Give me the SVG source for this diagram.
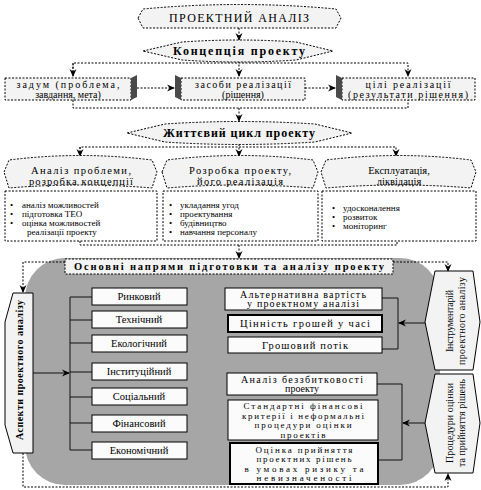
<svg xmlns="http://www.w3.org/2000/svg" width="481" height="490" viewBox="0 0 481 490" font-family="'Liberation Serif', 'DejaVu Serif', serif">
<defs>
<style>
text{font-family:"Liberation Serif","DejaVu Serif",serif;fill:#000}
.t12{font-size:12px}
.t11{font-size:10.5px}
.t10{font-size:10px}
.t95{font-size:9.5px}
.t9{font-size:9px}
.b{font-weight:bold}
.m{text-anchor:middle}
.dot{fill:none;stroke:#000;stroke-width:1;stroke-dasharray:2,1.5}
.shape{fill:#f3f3f3;stroke:#000;stroke-width:1;stroke-dasharray:2,1.5}
.box{fill:#fbfbfb;stroke:#000;stroke-width:1}
.thick{stroke-width:2}
.ln{fill:none;stroke:#111;stroke-width:1}
.side{fill:#4a4a4a}
</style>
<marker id="ar" markerWidth="8" markerHeight="8" refX="7" refY="4" orient="auto" markerUnits="userSpaceOnUse">
<path d="M0,0.5 L8,4 L0,7.5 L2.5,4 Z" fill="#000"/>
</marker>
</defs>

<g id="connectors">
<path class="dot" d="M239,28 V40" marker-end="url(#ar)"/>
<path class="dot" d="M73,76 V63 H408 V76" marker-end="url(#ar)"/>
<path class="dot" d="M73,63 V76" marker-end="url(#ar)"/>
<path class="dot" d="M239,61 V76" marker-end="url(#ar)"/>
<path class="dot" d="M137,88 H174" marker-end="url(#ar)"/>
<path class="dot" d="M305,88 H335" marker-end="url(#ar)"/>
<path class="dot" d="M73,100 V108 H408 V100"/>
<path class="dot" d="M239,108 V121" marker-end="url(#ar)"/>
<path class="dot" d="M80,156 V147 H396 V156" marker-end="url(#ar)"/>
<path class="dot" d="M80,147 V156" marker-end="url(#ar)"/>
<path class="dot" d="M239,144 V156" marker-end="url(#ar)"/>
<path class="dot" d="M80,241 V245 H397 V241"/>
<path class="dot" d="M239,245 V258" marker-end="url(#ar)"/>
</g>

<g id="gray-area">
<rect x="25" y="258" width="415" height="227" rx="40" ry="40" fill="#a6a6a6"/>
</g>

<g id="connectors-inner">
<path class="dot" d="M65,262 H23 V292" marker-end="url(#ar)"/>
<path class="dot" d="M393,262 H448 V271" marker-end="url(#ar)"/>
<path class="dot" d="M23,453 V487 H448 V474" marker-end="url(#ar)"/>
<path class="ln" d="M33,373 H69" marker-end="url(#ar)"/>
<path class="ln" d="M70,297 V450 M70,297 H92 M70,320 H92 M70,343 H92 M70,372 H92 M70,397 H92 M70,423 H92 M70,450 H92"/>
<path class="ln" d="M382,298 H398 V349 H382"/>
<path class="ln" d="M425,323 H399" marker-end="url(#ar)"/>
<path class="ln" d="M377,384 H402 V460 H378"/>
<path class="ln" d="M425,423 H403" marker-end="url(#ar)"/>
</g>

<g id="node-proektnyi-analiz">
<path class="shape" d="M138,18 L143,9 Q239,0 336,9 L341,18 L336,28 L143,28 Z"/>
<text class="t12 m" x="239" y="22" textLength="140">ПРОЕКТНИЙ АНАЛІЗ</text>
</g>

<g id="node-kontseptsiia">
<path class="shape" d="M143,51 L182,42 Q239,38 296,42 L333,51 L296,60 Q239,64 182,60 Z"/>
<text class="t12 b m" x="239" y="55" textLength="132">Концепція проекту</text>
</g>

<g id="node-zadum">
<rect class="shape" x="5" y="78" width="126" height="22"/>
<polygon class="side" points="131,78 137,75 137,97 131,100"/>
<text class="t10 m" x="68" y="88" textLength="103">задум (проблема,</text>
<text class="t10 m" x="68" y="97.5">завдання, мета)</text>
</g>

<g id="node-zasoby">
<rect class="shape" x="181" y="78" width="124" height="22"/>
<polygon class="side" points="175,75 181,78 181,100 175,97"/>
<text class="t10 m" x="243" y="88" textLength="96">засоби реалізації</text>
<text class="t10 m" x="243" y="97.5">(рішення)</text>
</g>

<g id="node-tsili">
<rect class="shape" x="342" y="78" width="133" height="22"/>
<polygon class="side" points="336,75 342,78 342,100 336,97"/>
<text class="t10 m" x="408" y="88" textLength="85">цілі реалізації</text>
<text class="t10 m" x="408" y="97.5" textLength="120">(результати рішення)</text>
</g>

<g id="node-zhyttievyi-tsykl">
<path class="shape" d="M127,133 L165,124 Q239,119 315,124 L352,133 L315,142 Q239,147 165,142 Z"/>
<text class="t12 b m" x="239" y="137" textLength="152">Життєвий цикл проекту</text>
</g>

<g id="node-analiz-problemy">
<path class="shape" d="M4,172 L9,160 Q80,151 152,160 L157,172 L152,188 Q80,182 9,188 Z"/>
<text class="t11 m" x="81" y="174" textLength="100">Аналіз проблеми,</text>
<text class="t11 m" x="81" y="184.5" textLength="104">розробка концепції</text>
<rect class="dot" x="5" y="191" width="152" height="50"/>
<text class="t9" x="10" y="208">•</text><text class="t9" x="22" y="208">аналіз можливостей</text>
<text class="t9" x="10" y="217">•</text><text class="t9" x="22" y="217">підготовка ТЕО</text>
<text class="t9" x="10" y="226">•</text><text class="t9" x="22" y="226">оцінка можливостей</text>
<text class="t9" x="27" y="235">реалізації проекту</text>
</g>

<g id="node-rozrobka-proektu">
<path class="shape" d="M162,172 L167,160 Q240,151 313,160 L318,172 L313,188 Q240,182 167,188 Z"/>
<text class="t11 m" x="240" y="174" textLength="102">Розробка проекту,</text>
<text class="t11 m" x="240" y="184.5" textLength="86">його реалізація</text>
<rect class="dot" x="163" y="191" width="155" height="50"/>
<text class="t9" x="169" y="208">•</text><text class="t9" x="180" y="208">укладання угод</text>
<text class="t9" x="169" y="217">•</text><text class="t9" x="180" y="217">проектування</text>
<text class="t9" x="169" y="226">•</text><text class="t9" x="180" y="226">будівництво</text>
<text class="t9" x="169" y="235">•</text><text class="t9" x="180" y="235">навчання персоналу</text>
</g>

<g id="node-ekspluatatsiia">
<path class="shape" d="M321,172 L326,160 Q399,151 471,160 L476,172 L471,188 Q399,182 326,188 Z"/>
<text class="t11 m" x="399" y="174">Експлуатація,</text>
<text class="t11 m" x="399" y="184.5">ліквідація</text>
<rect class="dot" x="322" y="191" width="154" height="50"/>
<text class="t9" x="332" y="211">•</text><text class="t9" x="343" y="211">удосконалення</text>
<text class="t9" x="332" y="220">•</text><text class="t9" x="343" y="220">розвиток</text>
<text class="t9" x="332" y="229">•</text><text class="t9" x="343" y="229">моніторинг</text>
</g>

<g id="node-osnovni-napriamy">
<rect class="shape" x="65" y="259" width="328" height="15"/>
<text class="t11 b m" x="229" y="270" textLength="310">Основні напрями підготовки та аналізу проекту</text>
</g>

<g id="node-aspekty">
<polygon fill="#f3f3f3" stroke="#000" points="13,293 33,293 33,453 13,453 5,425 5,322"/>
<text class="t10 b m" transform="translate(23,370) rotate(-90)" textLength="140">Аспекти проектного аналізу</text>
</g>

<g id="node-rynkovyi"><rect class="box" x="92" y="288" width="95" height="17"/><text class="t11 m" x="139" y="300">Ринковий</text></g>
<g id="node-tekhnichnyi"><rect class="box" x="92" y="311" width="95" height="17"/><text class="t11 m" x="139" y="323">Технічний</text></g>
<g id="node-ekolohichnyi"><rect class="box" x="92" y="335" width="95" height="17"/><text class="t11 m" x="139" y="347">Екологічний</text></g>
<g id="node-instytutsiinyi"><rect class="box" x="92" y="363" width="95" height="17"/><text class="t11 m" x="139" y="375">Інституційний</text></g>
<g id="node-sotsialnyi"><rect class="box" x="92" y="388" width="95" height="17"/><text class="t11 m" x="139" y="400">Соціальний</text></g>
<g id="node-finansovyi"><rect class="box" x="92" y="415" width="95" height="17"/><text class="t11 m" x="139" y="427">Фінансовий</text></g>
<g id="node-ekonomichnyi"><rect class="box" x="92" y="442" width="95" height="17"/><text class="t11 m" x="139" y="454">Економічний</text></g>

<g id="node-alternatyvna">
<rect class="box" x="225" y="288" width="157" height="22"/>
<text class="t10 m" x="303" y="297.5" textLength="126">Альтернативна вартість</text>
<text class="t10 m" x="303" y="307" textLength="112">у проектному аналізі</text>
</g>
<g id="node-tsinnist">
<rect class="box thick" x="228" y="315" width="154" height="17"/>
<text class="t11 m" x="305" y="327" textLength="130">Цінність грошей у часі</text>
</g>
<g id="node-hroshovyi">
<rect class="box" x="228" y="337" width="154" height="16"/>
<text class="t11 m" x="305" y="349" textLength="86">Грошовий потік</text>
</g>

<g id="node-instrumentarii">
<polygon fill="#f3f3f3" stroke="#000" points="435,271 473,271 480,322 473,370 435,370 425,322"/>
<text class="t10 m" transform="translate(453,321) rotate(-90)" textLength="62">Інструментарій</text>
<text class="t10 m" transform="translate(465,321) rotate(-90)" textLength="88">проектного аналізу</text>
</g>

<g id="node-analiz-bezzbytkovosti">
<rect class="box" x="227" y="373" width="150" height="22"/>
<text class="t10 m" x="302" y="382.5" textLength="122">Аналіз беззбитковості</text>
<text class="t10 m" x="302" y="392">проекту</text>
</g>
<g id="node-standartni">
<rect class="box" x="228" y="400" width="150" height="40"/>
<text class="t9 m" x="303" y="409" textLength="119">Стандартні фінансові</text>
<text class="t9 m" x="303" y="418.5" textLength="122">критерії і неформальні</text>
<text class="t9 m" x="303" y="428" textLength="97">процедури оцінки</text>
<text class="t9 m" x="303" y="437.5" textLength="45">проектів</text>
</g>
<g id="node-otsinka">
<rect class="box thick" x="230" y="443" width="148" height="41"/>
<text class="t9 m" x="304" y="452.5" textLength="97">Оцінка прийняття</text>
<text class="t9 m" x="304" y="462" textLength="95">проектних рішень</text>
<text class="t9 m" x="304" y="471.5" textLength="119">в умовах ризику та</text>
<text class="t9 m" x="304" y="481" textLength="95">невизначеності</text>
</g>

<g id="node-protsedury">
<polygon fill="#f3f3f3" stroke="#000" points="435,374 473,374 480,423 473,473 435,473 425,423"/>
<text class="t10 m" transform="translate(453,423) rotate(-90)" textLength="80">Процедури оцінки</text>
<text class="t10 m" transform="translate(465,423) rotate(-90)" textLength="88">та прийняття рішень</text>
</g>
</svg>
